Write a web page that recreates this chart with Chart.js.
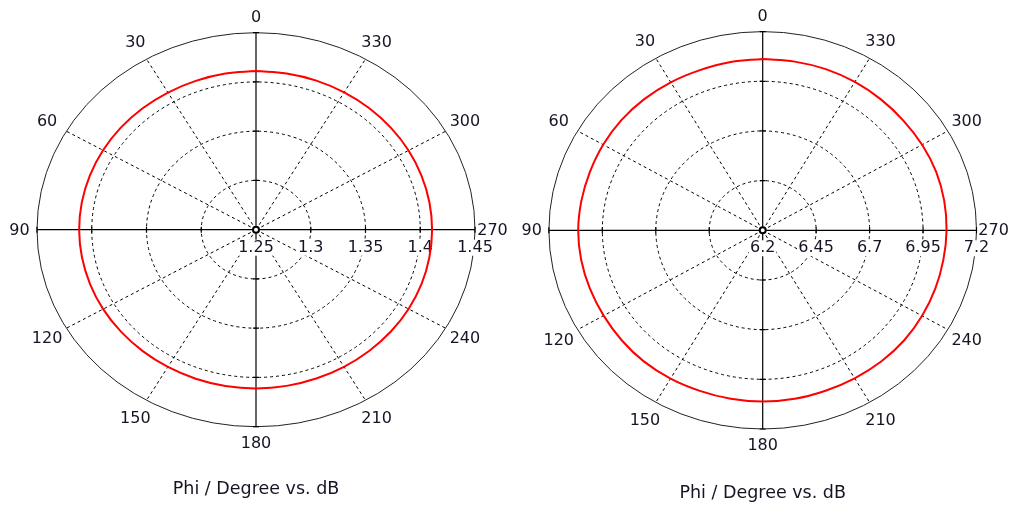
<!DOCTYPE html>
<html>
<head>
<meta charset="utf-8">
<script src="https://cdn.jsdelivr.net/npm/chart.js@4.4.1/dist/chart.umd.min.js"></script>
<style>
html, body { margin: 0; padding: 0; background: #fff; }
#wrap { position: relative; width: 1014px; height: 508px; }
#wrap canvas { position: absolute; left: 0; top: 0; }
</style>
</head>
<body>
<div id="wrap">
  <canvas id="leftChart" width="1014" height="508"></canvas>
  <canvas id="rightChart" width="1014" height="508"></canvas>
</div>
<script>
// sampled phi angles (degrees, counter-clockwise from top)
const phiDeg = [0, 10, 20, 30, 40, 50, 60, 70, 80, 90, 100, 110, 120, 130, 140, 150, 160, 170,
                180, 190, 200, 210, 220, 230, 240, 250, 260, 270, 280, 290, 300, 310, 320, 330, 340, 350, 360];

// gain in dB
const leftGain = [1.4110, 1.4110, 1.4108, 1.4108, 1.4110, 1.4112, 1.4113, 1.4114, 1.4115, 1.4115, 1.4114, 1.4113,
                  1.4112, 1.4110, 1.4109, 1.4109, 1.4110, 1.4111, 1.4111, 1.4110, 1.4108, 1.4107, 1.4107, 1.4108,
                  1.4109, 1.4109, 1.4108, 1.4108, 1.4108, 1.4108, 1.4109, 1.4109, 1.4110, 1.4110, 1.4111, 1.4110, 1.4110];
const rightGain = [7.062, 7.060, 7.058, 7.060, 7.062, 7.063, 7.062, 7.060, 7.061, 7.063, 7.062, 7.060,
                   7.059, 7.061, 7.063, 7.062, 7.060, 7.061, 7.062, 7.061, 7.059, 7.060, 7.062, 7.063,
                   7.061, 7.059, 7.058, 7.060, 7.062, 7.063, 7.061, 7.059, 7.060, 7.062, 7.063, 7.062, 7.062];

// radial tick labels
const leftTicks = [1.25, 1.3, 1.35, 1.4, 1.45];
const rightTicks = [6.2, 6.45, 6.7, 6.95, 7.2];

// angular labels
const angleLabels = [0, 30, 60, 90, 120, 150, 180, 210, 240, 270, 300, 330];
const axisTitle = 'Phi / Degree vs. dB';

const FONT = '"DejaVu Sans", Verdana, sans-serif';
const TEXT = '#141424';

// draws rings, spokes, axes and labels of a polar frame using the x/y scales
const polarFrame = {
    id: 'polarFrame',
    beforeDatasetsDraw(chart, args, opts) {
        const ctx = chart.ctx;
        const xs = chart.scales.x, ys = chart.scales.y;
        const cx = xs.getPixelForValue(0), cy = ys.getPixelForValue(0);
        const rx = xs.getPixelForValue(1) - cx;
        const ry = cy - ys.getPixelForValue(1);
        const ticks = opts.ticks;
        const lo = ticks[0], hi = ticks[ticks.length - 1];
        const frac = v => (v - lo) / (hi - lo);

        ctx.save();
        // dashed rings
        ctx.strokeStyle = '#000';
        ctx.lineWidth = 1;
        ctx.setLineDash([3, 3]);
        for (let i = 1; i < ticks.length - 1; i++) {
            const f = frac(ticks[i]);
            ctx.beginPath();
            ctx.ellipse(cx, cy, rx * f, ry * f, 0, 0, Math.PI * 2);
            ctx.stroke();
        }
        // dashed spokes
        opts.angles.forEach(a => {
            if (a % 90 === 0) return;
            const t = a * Math.PI / 180;
            ctx.beginPath();
            ctx.moveTo(cx, cy);
            ctx.lineTo(cx - rx * Math.sin(t), cy - ry * Math.cos(t));
            ctx.stroke();
        });
        ctx.setLineDash([]);

        // outer ring
        ctx.strokeStyle = '#222';
        ctx.beginPath();
        ctx.ellipse(cx, cy, rx, ry, 0, 0, Math.PI * 2);
        ctx.stroke();

        // main axes + tick marks
        ctx.strokeStyle = '#000';
        ctx.lineWidth = 1.2;
        ctx.beginPath();
        ctx.moveTo(cx - rx, cy); ctx.lineTo(cx + rx, cy);
        ctx.moveTo(cx, cy - ry); ctx.lineTo(cx, cy + ry);
        for (let i = 1; i < ticks.length; i++) {
            const f = frac(ticks[i]);
            [-1, 1].forEach(s => {
                ctx.moveTo(cx + s * rx * f, cy - 3); ctx.lineTo(cx + s * rx * f, cy + 3);
                ctx.moveTo(cx - 3, cy + s * ry * f); ctx.lineTo(cx + 3, cy + s * ry * f);
            });
        }
        ctx.stroke();

        // centre marker
        ctx.lineWidth = 2;
        ctx.fillStyle = '#fff';
        ctx.beginPath();
        ctx.arc(cx, cy, 3, 0, Math.PI * 2);
        ctx.fill();
        ctx.stroke();

        // radial tick labels with white backdrop
        ctx.font = '16px ' + FONT;
        ctx.textAlign = 'center';
        ctx.textBaseline = 'middle';
        ticks.forEach(v => {
            const tx = cx + rx * frac(v), ty = cy + 18;
            const label = String(v);
            const w = ctx.measureText(label).width;
            ctx.fillStyle = '#fff';
            ctx.fillRect(tx - w / 2 - 1, ty - 8, w + 2, 16);
            ctx.fillStyle = TEXT;
            ctx.fillText(label, tx, ty);
        });

        // angle labels
        ctx.fillStyle = TEXT;
        opts.angles.forEach(a => {
            const t = a * Math.PI / 180;
            const f = 1.08 + 0.025 * Math.abs(Math.sin(2 * t));
            ctx.fillText(String(a), cx - rx * f * Math.sin(t), cy - ry * f * Math.cos(t) + 1);
        });

        // title under the plot
        ctx.font = '17.5px ' + FONT;
        ctx.fillText(opts.title, cx, ys.getPixelForValue(opts.titleY));
        ctx.restore();
    }
};

function toXY(gain, ticks) {
    const lo = ticks[0], hi = ticks[ticks.length - 1];
    return phiDeg.map((a, i) => {
        const f = (gain[i] - lo) / (hi - lo);
        const t = a * Math.PI / 180;
        return { x: -f * Math.sin(t), y: f * Math.cos(t) };
    });
}

function makePolar(id, gain, ticks, view) {
    const W = 1014, H = 508;
    new Chart(document.getElementById(id), {
        type: 'scatter',
        data: {
            datasets: [{
                data: toXY(gain, ticks),
                showLine: true,
                borderColor: '#ff0000',
                borderWidth: 2,
                pointRadius: 0,
                tension: 0.4,
                fill: false
            }]
        },
        options: {
            responsive: false,
            animation: false,
            devicePixelRatio: 1,
            layout: { padding: 0 },
            scales: {
                x: { type: 'linear', display: false, min: -view.cx / view.rx, max: (W - view.cx) / view.rx },
                y: { type: 'linear', display: false, min: -(H - view.cy) / view.ry, max: view.cy / view.ry }
            },
            plugins: {
                legend: { display: false },
                tooltip: { enabled: false },
                polarFrame: { ticks: ticks, angles: angleLabels, title: axisTitle, titleY: view.titleY }
            }
        },
        plugins: [polarFrame]
    });
}

makePolar('leftChart', leftGain, leftTicks, { cx: 256, cy: 229.7, rx: 219, ry: 197, titleY: -1.32 });
makePolar('rightChart', rightGain, rightTicks, { cx: 762.7, cy: 230.3, rx: 213.8, ry: 198.7, titleY: -1.325 });
</script>
</body>
</html>
